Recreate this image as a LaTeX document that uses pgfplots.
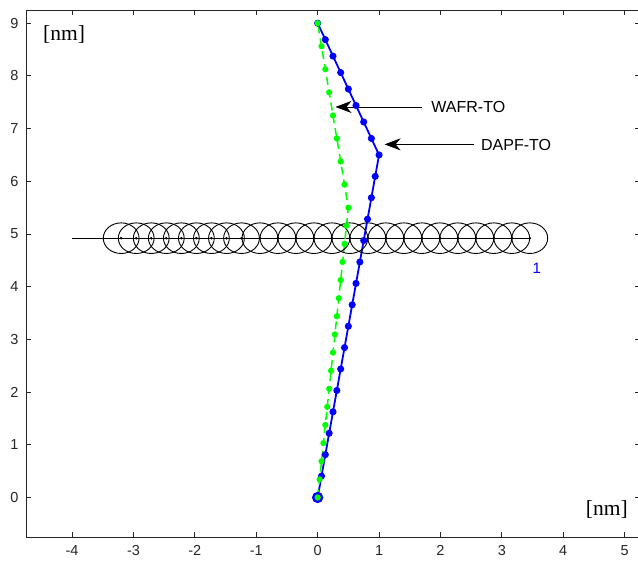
\documentclass[border=0pt]{standalone}
\usepackage{fontspec}
\setmainfont{Liberation Sans}
\newfontfamily\timesfont{Liberation Serif}
\usepackage{pgfplots}
\pgfplotsset{compat=1.18}
\usetikzlibrary{arrows.meta}
\definecolor{axgray}{RGB}{38,38,38}
\definecolor{mblue}{RGB}{0,0,255}
\definecolor{mgreen}{RGB}{0,255,0}
\begin{document}
\begin{tikzpicture}
\begin{axis}[
    scale only axis,
    width=614pt, height=527pt,
    xmin=-4.75, xmax=5.25,
    ymin=-0.75, ymax=9.25,
    xtick={-4,-3,-2,-1,0,1,2,3,4,5},
    ytick={0,1,2,3,4,5,6,7,8,9},
    tick align=inside,
    major tick length=5pt,
    axis line style={axgray, line width=0.8pt},
    tick style={axgray, line width=0.8pt},
    ticklabel style={font=\fontsize{14.5}{14.5}\selectfont, text=axgray},
    xticklabel style={yshift=-5pt},
    yticklabel style={xshift=-4pt},
    /pgf/number format/assume math mode=true,
    clip=false,
]
    % horizontal track with the circles
    \addplot[black, line width=0.8pt] coordinates {(-4,4.92) (3.455,4.92)};
    \addplot[only marks, black, mark=*, mark size=1.1pt] coordinates {
        (-3.2,4.92) (-2.955,4.92) (-2.71,4.92) (-2.465,4.92) (-2.22,4.92)
        (-1.975,4.92) (-1.73,4.92) (-1.485,4.92) (-1.24,4.92)
        (-0.94,4.92) (-0.647,4.92) (-0.354,4.92) (-0.061,4.92) (0.232,4.92)
        (0.525,4.92) (0.818,4.92) (1.111,4.92) (1.404,4.92) (1.697,4.92)
        (1.99,4.92) (2.283,4.92) (2.576,4.92) (2.869,4.92) (3.162,4.92) (3.455,4.92)
    };
    \addplot[only marks, mark=o, mark size=15.3pt, black, line width=0.9pt,
        mark options={xscale=1.17}] coordinates {
        (-3.2,4.92) (-2.955,4.92) (-2.71,4.92) (-2.465,4.92) (-2.22,4.92)
        (-1.975,4.92) (-1.73,4.92) (-1.485,4.92) (-1.24,4.92)
        (-0.94,4.92) (-0.647,4.92) (-0.354,4.92) (-0.061,4.92) (0.232,4.92)
        (0.525,4.92) (0.818,4.92) (1.111,4.92) (1.404,4.92) (1.697,4.92)
        (1.99,4.92) (2.283,4.92) (2.576,4.92) (2.869,4.92) (3.162,4.92) (3.455,4.92)
    };
    % DAPF-TO
    \addplot[mblue, line width=1.8pt, mark=*, mark size=2.6pt] coordinates {
        (0,0) (0.0625,0.40625) (0.125,0.8125) (0.1875,1.21875) (0.25,1.625)
        (0.3125,2.03125) (0.375,2.4375) (0.4375,2.84375) (0.5,3.25)
        (0.5625,3.65625) (0.625,4.0625) (0.6875,4.46875) (0.75,4.875)
        (0.8125,5.28125) (0.875,5.6875) (0.9375,6.09375) (1,6.5)
        (0.875,6.8125) (0.75,7.125) (0.625,7.4375) (0.5,7.75)
        (0.375,8.0625) (0.25,8.375) (0.125,8.6875) (0,9)
    };
    \addplot[only marks, mblue, mark=o, mark size=4.5pt, line width=2.2pt] coordinates {(0,0)};
    % WAFR-TO
    \addplot[mgreen, line width=1.5pt, dash pattern=on 8pt off 5pt, mark=*, mark size=2.3pt,
        mark options={solid}] coordinates {
        (0,0) (0.03125,0.34375) (0.0625,0.6875) (0.09375,1.03125) (0.125,1.375)
        (0.15625,1.71875) (0.1875,2.0625) (0.21875,2.40625) (0.25,2.75)
        (0.28125,3.09375) (0.3125,3.4375) (0.34375,3.78125) (0.375,4.125)
        (0.40625,4.46875) (0.4375,4.8125) (0.46875,5.15625) (0.5,5.5)
        (0.4375,5.9375) (0.375,6.375) (0.3125,6.8125) (0.25,7.25)
        (0.1875,7.6875) (0.125,8.125) (0.0625,8.5625) (0,9)
    };
    % annotations
    \draw[-{Stealth[length=16pt, width=12pt, inset=5pt]}, black, line width=0.8pt]
        (axis cs:1.70,7.41) -- (axis cs:0.29,7.41);
    \draw[-{Stealth[length=16pt, width=12pt, inset=5pt]}, black, line width=0.8pt]
        (axis cs:2.55,6.70) -- (axis cs:1.09,6.70);
    \node[anchor=west, inner sep=0pt, font=\fontsize{16}{16}\selectfont] at (axis cs:1.85,7.41) {WAFR-TO};
    \node[anchor=west, inner sep=0pt, font=\fontsize{16}{16}\selectfont] at (axis cs:2.66,6.69) {DAPF-TO};
    \node[mblue, font=\fontsize{15}{15}\selectfont] at (axis cs:3.57,4.34) {1};
    \node[font=\timesfont\fontsize{21.5}{21.5}\selectfont] at (axis cs:-4.13,8.78) {[nm]};
    \node[font=\timesfont\fontsize{21.5}{21.5}\selectfont] at (axis cs:4.71,-0.22) {[nm]};
    \coordinate (ll) at (rel axis cs:0,0);
    \coordinate (ur) at (rel axis cs:1,1);
\end{axis}
\pgfresetboundingbox
\path[use as bounding box] ([xshift=-26pt,yshift=-25.3pt]ll) rectangle ([xshift=-2pt,yshift=10pt]ur);
\end{tikzpicture}
\end{document}
